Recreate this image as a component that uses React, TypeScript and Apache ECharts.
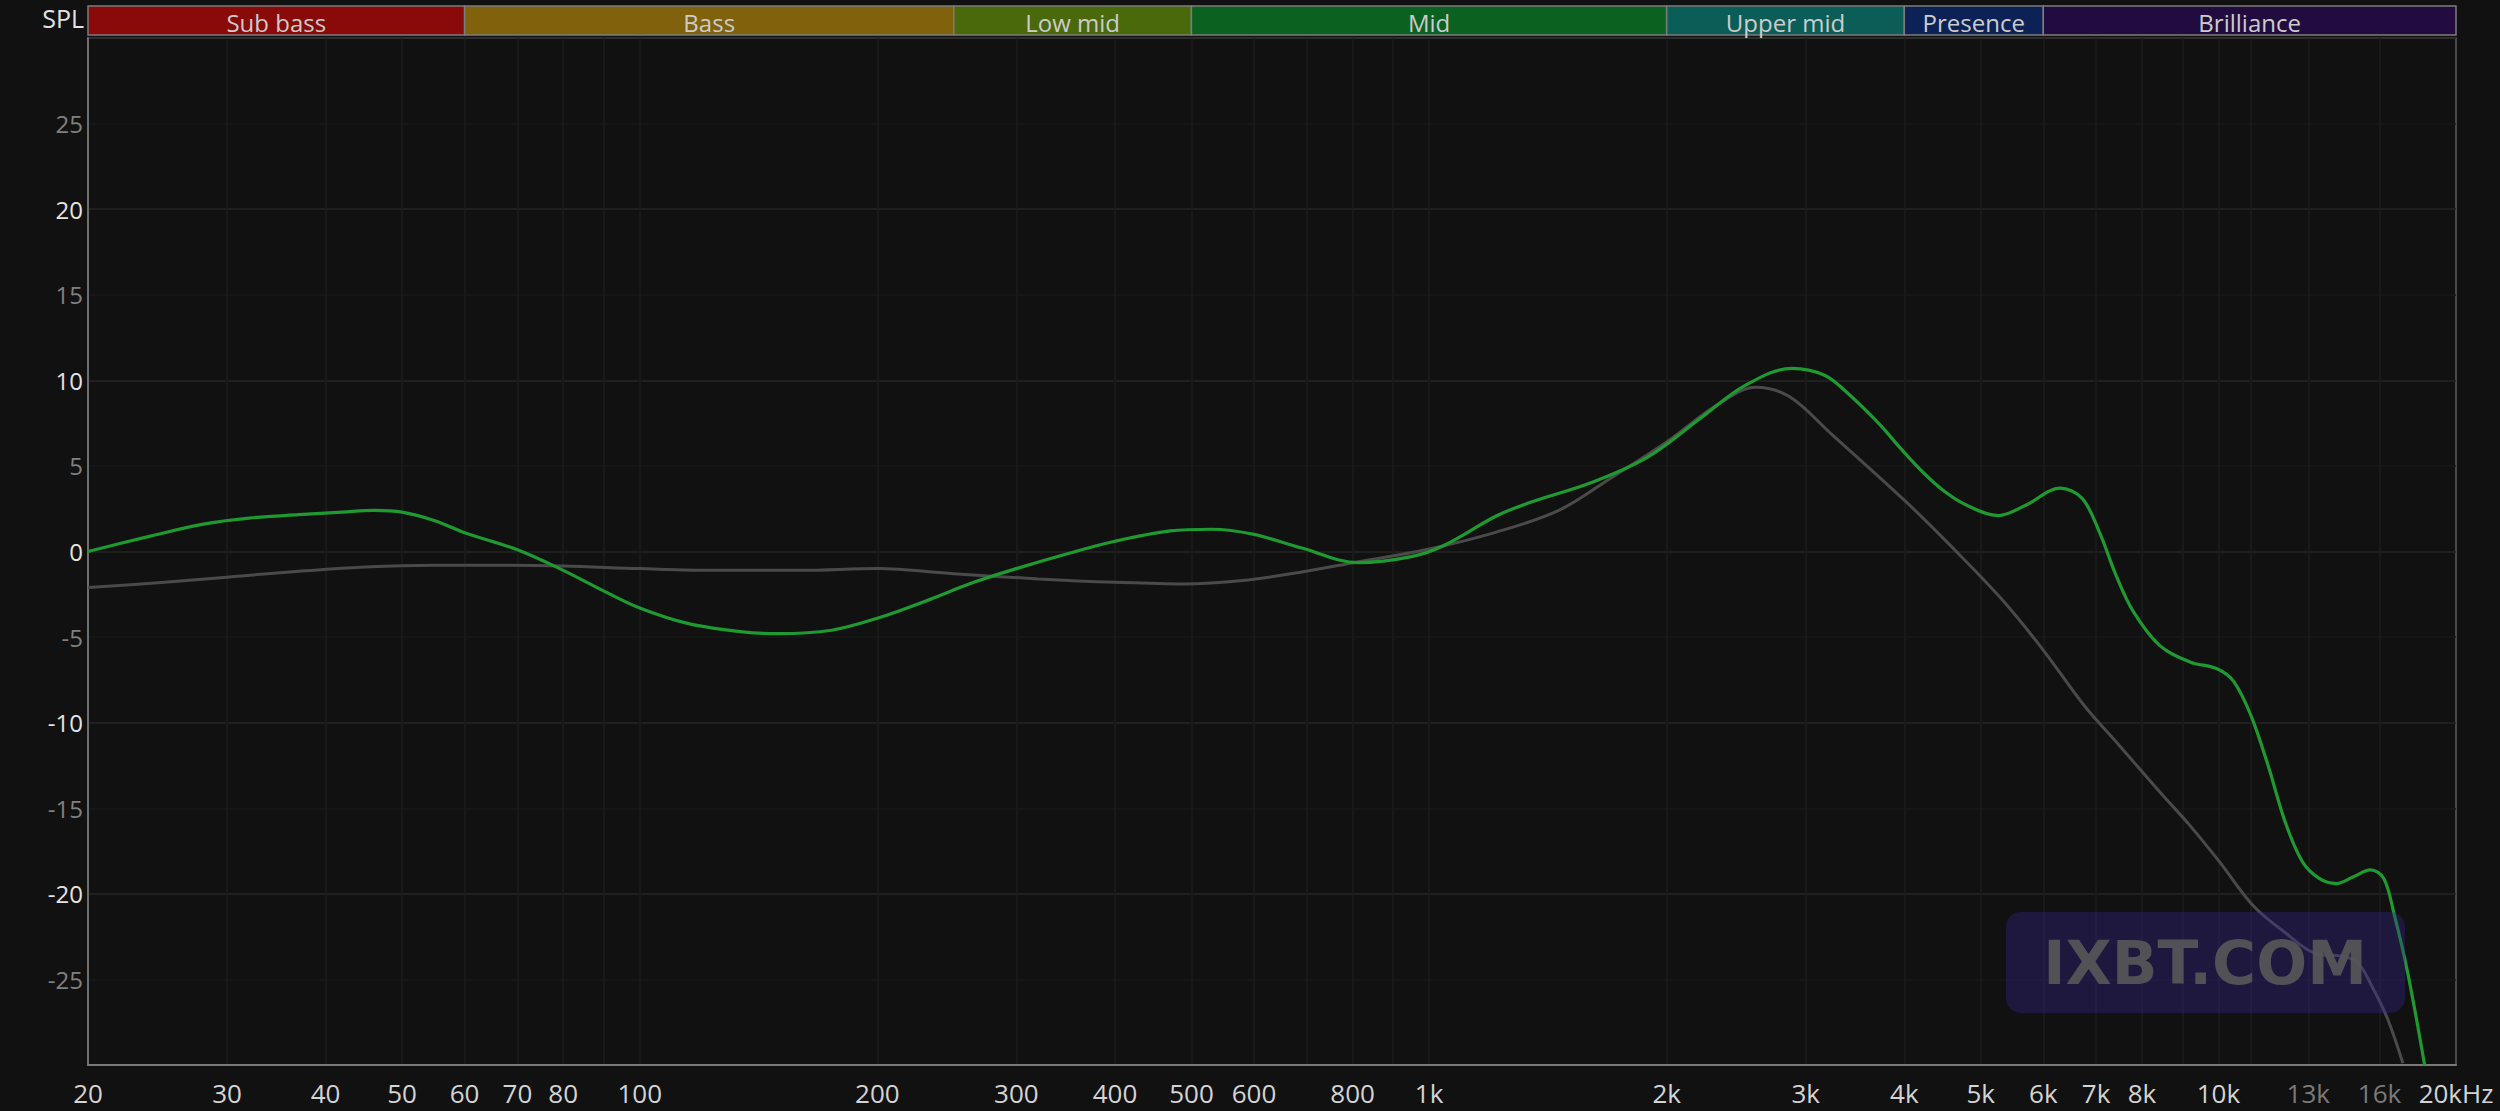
import React, { useEffect, useRef } from "react";
import * as echarts from "echarts";

// ---- Data ----
const GREEN_FREQ = [
  20, 24, 28, 32, 37, 42, 46, 50, 55, 60, 70, 80, 90, 100, 115, 135, 150, 175, 200, 230, 265, 300, 350, 400,
  470, 530, 600, 690, 814, 950, 1044, 1220, 1350, 1600, 1890, 2210, 2515, 2880, 3170, 3400, 3710, 3961, 4230,
  4500, 4800, 5263, 5700, 6300, 6720, 7065, 7420, 7800, 8430, 9200, 9960, 10460, 11000, 11560, 12150, 12770,
  13420, 14110, 14830, 15580, 16200, 16700, 17370, 18250,
];
const GREEN_DB = [
  0.0, 0.9, 1.6, 1.95, 2.15, 2.3, 2.4, 2.3, 1.8, 1.1, 0.1, -1.1, -2.3, -3.3, -4.2, -4.7, -4.8, -4.6, -3.9, -2.9,
  -1.8, -1.0, -0.1, 0.6, 1.2, 1.3, 1.0, 0.2, -0.65, -0.3, 0.35, 2.1, 2.9, 4.0, 5.5, 7.8, 9.7, 10.7, 10.3, 9.2,
  7.5, 6.0, 4.6, 3.5, 2.7, 2.1, 2.7, 3.7, 3.1, 1.15, -1.4, -3.5, -5.5, -6.45, -6.85, -7.6, -9.6, -12.5, -15.8,
  -18.1, -19.1, -19.4, -19.0, -18.6, -19.1, -21.2, -24.6, -30.0,
];
const GREY_FREQ = [
  20, 25, 30, 37, 45, 55, 65, 80, 100, 125, 160, 200, 250, 320, 400, 490, 580, 690, 814, 990, 1220, 1460, 1700,
  2000, 2316, 2594, 2860, 3245, 4000, 4565, 5306, 5986, 6760, 7480, 8430, 9200, 10040, 11070, 12100, 13300,
  14350, 15000, 15650, 16380, 17130,
];
const GREY_DB = [
  -2.1, -1.8, -1.5, -1.15, -0.9, -0.8, -0.8, -0.85, -1.0, -1.1, -1.1, -1.0, -1.3, -1.6, -1.8, -1.9, -1.7, -1.2,
  -0.6, 0.1, 1.15, 2.4, 4.3, 6.4, 8.55, 9.6, 9.05, 6.8, 3.0, 0.4, -2.75, -5.7, -9.0, -11.3, -14.05, -16.0,
  -18.15, -20.7, -22.2, -23.5, -23.65, -24.0, -25.4, -27.3, -29.9,
];

const X_LABEL_FREQ = [
  20, 30, 40, 50, 60, 70, 80, 100, 200, 300, 400, 500, 600, 800, 1000, 2000, 3000, 4000, 5000, 6000, 7000, 8000,
  10000, 13000, 16000, 20000,
];
const X_LABEL_TEXT = [
  "20", "30", "40", "50", "60", "70", "80", "100", "200", "300", "400", "500", "600", "800", "1k", "2k", "3k",
  "4k", "5k", "6k", "7k", "8k", "10k", "13k", "16k", "20kHz",
];
const X_LABEL_DIM = ["13k", "16k"];
const X_GRID_FREQ = [
  30, 40, 50, 60, 70, 80, 90, 100, 200, 300, 400, 500, 600, 700, 800, 900, 1000, 2000, 3000, 4000, 5000, 6000,
  7000, 8000, 9000, 10000, 11000, 13000, 16000,
];

const BAND_NAMES = ["Sub bass", "Bass", "Low mid", "Mid", "Upper mid", "Presence", "Brilliance"];
const BAND_EDGES = [20, 60, 250, 500, 2000, 4000, 6000, 20000];
const BAND_COLORS = ["#8a0909", "#7f620b", "#4a690b", "#0b6120", "#0b5e57", "#0c2257", "#220c3f"];

const Y_MIN = -30;
const Y_MAX = 30;
const Y_STEP = 5;

const FONT = "'Open Sans', 'Noto Sans', sans-serif";
const lg = (f: number) => Math.log10(f);

export default function App() {
  const ref = useRef<HTMLDivElement>(null);

  useEffect(() => {
    if (!ref.current) return;
    const chart = echarts.init(ref.current, undefined, { renderer: "svg" });

    const xLabelFormatter = (v: number) => {
      const i = X_LABEL_FREQ.findIndex((f) => Math.abs(lg(f) - v) < 1e-6);
      if (i < 0) return "";
      const t = X_LABEL_TEXT[i];
      return X_LABEL_DIM.includes(t) ? `{d|${t}}` : t;
    };

    const bandData = BAND_NAMES.map((_, i) => [lg(BAND_EDGES[i]), lg(BAND_EDGES[i + 1]), i]);

    const option: any = {
      animation: false,
      backgroundColor: "#111111",
      grid: [
        {
          left: 88,
          right: 44,
          top: 38,
          bottom: 46,
          show: true,
          borderColor: "#5e5e5e",
          borderWidth: 1.5,
          outerBoundsMode: "none",
        },
        {
          left: 88,
          right: 44,
          top: 6,
          height: 29,
          show: false,
          outerBoundsMode: "none",
        },
      ],
      xAxis: [
        {
          type: "value",
          gridIndex: 0,
          min: lg(20),
          max: lg(20000),
          axisLine: { show: true, onZero: false, lineStyle: { color: "#7a7a7a", width: 2 } },
          axisTick: { show: false, customValues: X_GRID_FREQ.map(lg) },
          splitLine: { show: true, lineStyle: { color: "#1c1c1c", width: 1.5 } },
          axisLabel: {
            customValues: X_LABEL_FREQ.map(lg),
            formatter: xLabelFormatter,
            color: "#d4d4d4",
            fontSize: 26,
            fontFamily: FONT,
            margin: 15,
            hideOverlap: false,
            showMinLabel: true,
            showMaxLabel: true,
            rich: { d: { color: "#7a7a7a", fontSize: 26, fontFamily: FONT } },
          },
        },
        {
          type: "value",
          gridIndex: 1,
          min: lg(20),
          max: lg(20000),
          show: false,
        },
      ],
      yAxis: [
        {
          type: "value",
          gridIndex: 0,
          min: Y_MIN,
          max: Y_MAX,
          interval: Y_STEP,
          axisLine: { show: true, onZero: false, lineStyle: { color: "#6e6e6e", width: 2 } },
          axisTick: { show: false },
          splitLine: { show: true, lineStyle: { color: ["#242424", "#191919"], width: 1.5 } },
          axisLabel: {
            formatter: (v: number) => (v === Y_MIN || v === Y_MAX ? "" : String(v)),
            color: (v: any) => (Number(v) % 10 === 0 ? "#e4e4e4" : "#808080"),
            fontSize: 24,
            fontFamily: FONT,
            margin: 5,
          },
        },
        { type: "value", gridIndex: 1, min: 0, max: 1, show: false },
      ],
      series: [
        {
          name: "bands",
          type: "custom",
          xAxisIndex: 1,
          yAxisIndex: 1,
          data: bandData,
          encode: { x: [0, 1] },
          renderItem: (params: any, api: any) => {
            const s = api.coord([api.value(0), 0]);
            const e = api.coord([api.value(1), 0]);
            const cs = params.coordSys;
            const idx = params.dataIndex;
            return {
              type: "rect",
              shape: { x: s[0], y: cs.y, width: e[0] - s[0], height: cs.height },
              style: { fill: BAND_COLORS[idx], stroke: "#7c7c7c", lineWidth: 1.5 },
              textContent: {
                style: {
                  text: BAND_NAMES[idx],
                  fill: "#cccccc",
                  fontSize: 24,
                  fontFamily: FONT,
                },
              },
              textConfig: { position: "inside", offset: [0, 2] },
            };
          },
          silent: true,
        },
        {
          name: "reference",
          type: "line",
          xAxisIndex: 0,
          yAxisIndex: 0,
          data: GREY_FREQ.map((f, i) => [lg(f), GREY_DB[i]]),
          smooth: 0.35,
          showSymbol: false,
          symbol: "none",
          clip: true,
          lineStyle: { color: "#4a4a4a", width: 3 },
          z: 3,
        },
        {
          name: "measured",
          type: "line",
          xAxisIndex: 0,
          yAxisIndex: 0,
          data: GREEN_FREQ.map((f, i) => [lg(f), GREEN_DB[i]]),
          smooth: 0.35,
          showSymbol: false,
          symbol: "none",
          clip: true,
          lineStyle: { color: "#1e9a30", width: 3.2 },
          z: 4,
        },
      ],
      graphic: [
        {
          type: "text",
          x: 84,
          y: 18,
          style: {
            text: "SPL",
            fill: "#e2e2e2",
            fontSize: 25,
            fontFamily: FONT,
            align: "right",
            verticalAlign: "middle",
          },
        },
        {
          type: "rect",
          shape: { x: 2006, y: 912, width: 399, height: 101, r: 15 },
          style: { fill: "rgba(55,38,150,0.35)" },
          z: 100,
        },
        {
          type: "text",
          x: 2205,
          y: 963,
          style: {
            text: "IXBT.COM",
            fill: "rgba(88,88,88,0.9)",
            fontSize: 60,
            fontWeight: "bold",
            fontFamily: "'DejaVu Sans', sans-serif",
            align: "center",
            verticalAlign: "middle",
          },
          z: 101,
        },
      ],
    };

    chart.setOption(option);
    return () => chart.dispose();
  }, []);

  return (
    <div
      ref={ref}
      style={{ position: "fixed", left: 0, top: 0, width: 2500, height: 1111, background: "#111111" }}
    />
  );
}
